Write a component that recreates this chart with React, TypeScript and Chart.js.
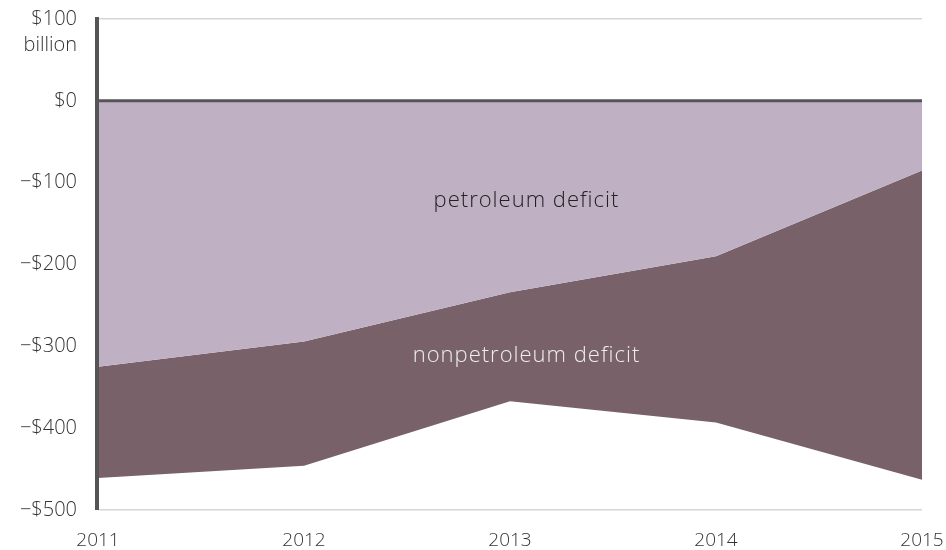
import React, { useEffect, useRef } from "react";
import { Chart, registerables } from "chart.js";

Chart.register(...registerables);

const years = ["2011", "2012", "2013", "2014", "2015"];
// boundary between petroleum deficit (above) and nonpetroleum deficit (below)
const petroleumDeficit = [-325, -294, -234, -190, -85];
// total deficit (bottom of the nonpetroleum band)
const totalDeficit = [-461, -446, -367, -393, -463];
const yTicks = [100, 0, -100, -200, -300, -400, -500];

const FONT = "'Open Sans', sans-serif";

function fmt(v: number): string {
  if (v === 0) return "$0";
  if (v < 0) return "\u2212$" + Math.abs(v);
  return "$" + v;
}

const overlay = {
  id: "overlay",
  afterDatasetsDraw(chart: any) {
    const { ctx, chartArea, scales } = chart;
    const y = scales.y;
    const x = scales.x;
    ctx.save();
    const y0 = y.getPixelForValue(0);
    ctx.strokeStyle = "#555555";
    ctx.lineWidth = 3;
    ctx.beginPath();
    ctx.moveTo(chartArea.left, y0);
    ctx.lineTo(chartArea.right, y0);
    ctx.stroke();
    ctx.lineWidth = 4;
    ctx.beginPath();
    ctx.moveTo(chartArea.left - 1, chartArea.top - 2);
    ctx.lineTo(chartArea.left - 1, chartArea.bottom);
    ctx.stroke();
    ctx.fillStyle = "#333333";
    ctx.font = "300 20px " + FONT;
    ctx.textAlign = "right";
    ctx.textBaseline = "middle";
    ctx.fillText("billion", chartArea.left - 21, y.getPixelForValue(100) + 26);
    const cx = x.getPixelForValue(2.08);
    ctx.textAlign = "center";
    ctx.font = "300 22px " + FONT;
    (ctx as any).letterSpacing = "1px";
    ctx.fillStyle = "#222222";
    ctx.fillText("petroleum deficit", cx, y.getPixelForValue(-122));
    ctx.fillStyle = "#eeeeee";
    ctx.fillText("nonpetroleum deficit", cx, y.getPixelForValue(-311));
    (ctx as any).letterSpacing = "0px";
    ctx.restore();
  },
};

export default function App() {
  const ref = useRef<HTMLCanvasElement>(null);
  useEffect(() => {
    document.body.style.margin = "0";
    const chart = new Chart(ref.current!, {
      type: "line",
      data: {
        labels: years,
        datasets: [
          {
            label: "petroleum deficit",
            data: petroleumDeficit,
            fill: "origin",
            backgroundColor: "#bfb1c3",
            borderWidth: 0,
            pointRadius: 0,
            tension: 0,
          },
          {
            label: "nonpetroleum deficit",
            data: totalDeficit,
            fill: "-1",
            backgroundColor: "#786169",
            borderWidth: 0,
            pointRadius: 0,
            tension: 0,
          },
        ],
      },
      options: {
        animation: false,
        responsive: false,
        maintainAspectRatio: false,
        layout: { padding: { top: 19, right: 24, left: 0, bottom: 0 } },
        plugins: {
          legend: { display: false },
          tooltip: { enabled: false },
        },
        scales: {
          x: {
            grid: { display: false },
            border: { display: false },
            ticks: {
              color: "#333333",
              font: { family: FONT, size: 19, weight: "300" as any },
              padding: 11,
              maxRotation: 0,
              autoSkip: false,
            },
            afterFit(scale: any) {
              scale.height = 40;
              scale.paddingLeft = 0;
              scale.paddingRight = 0;
            },
          },
          y: {
            min: -500,
            max: 100,
            afterBuildTicks(scale: any) {
              scale.ticks = yTicks.map((v) => ({ value: v }));
            },
            grid: {
              color: (c: any) =>
                c.tick && (c.tick.value === 100 || c.tick.value === -500)
                  ? "#d6d6d6"
                  : "rgba(0,0,0,0)",
              lineWidth: 1.5,
              drawTicks: false,
            },
            border: { display: false },
            ticks: {
              color: "#333333",
              font: { family: FONT, size: 20, weight: "300" as any },
              padding: 21,
              callback: (v: any) => fmt(Number(v)),
            },
            afterFit(scale: any) {
              scale.width = 98;
              scale.paddingTop = 0;
              scale.paddingBottom = 0;
            },
          },
        },
      },
      plugins: [overlay],
    });
    return () => chart.destroy();
  }, []);
  return <canvas ref={ref} width={946} height={550} style={{ display: "block" }} />;
}
